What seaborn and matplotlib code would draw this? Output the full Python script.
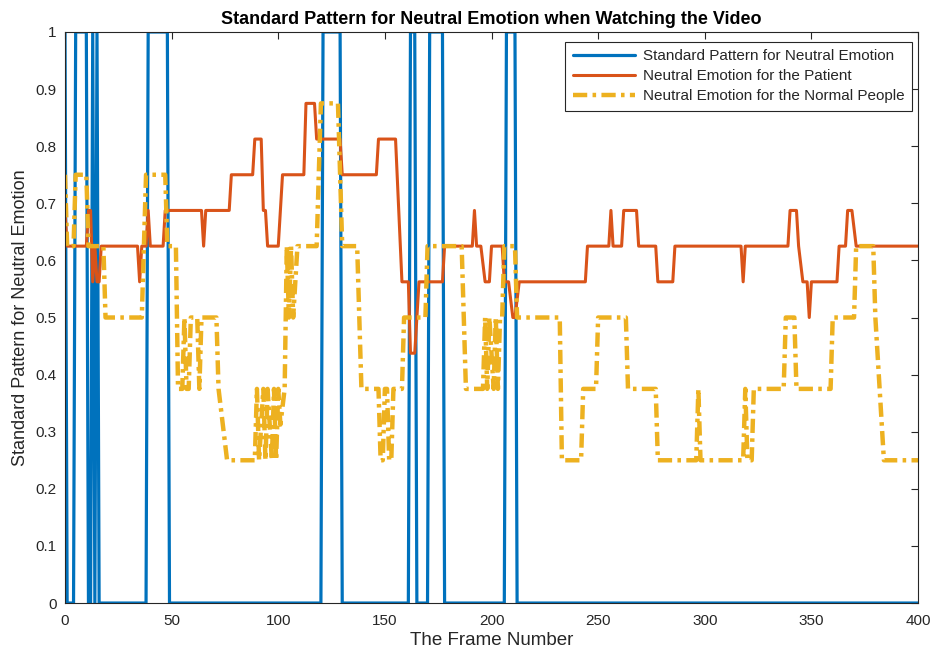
import matplotlib
matplotlib.use("Agg")
import matplotlib.pyplot as plt
import seaborn as sns
import pandas as pd

# Corner points (frame, value) of each curve; straight segments join them.
frames_standard = [0, 1, 4, 5, 10, 11, 12, 13, 14, 15, 16, 38, 39, 48, 49,
                   120, 121, 129, 130, 161, 162, 164, 165, 170, 171, 177, 178,
                   206, 207, 211, 212, 400]
values_standard = [1, 0, 0, 1, 1, 0, 0, 1, 0, 1, 0, 0, 1, 1, 0,
                   0, 1, 1, 0, 0, 1, 1, 0, 0, 1, 1, 0,
                   0, 1, 1, 0, 0]

frames_patient = [0, 1, 10, 11, 12, 13, 14, 15, 16, 17, 34, 35, 36, 38, 39, 40,
                  46, 47, 64, 65, 66, 77, 78, 88, 89, 92, 93, 94, 95, 100, 101,
                  102, 112, 113, 117, 118, 129, 130, 146, 147, 155, 158, 161,
                  162, 164, 166, 177, 178, 191, 192, 193, 195, 197, 199, 200,
                  205, 206, 208, 210, 211, 213, 244, 245, 255, 256, 257, 261,
                  262, 268, 269, 277, 278, 285, 286, 317, 318, 319, 339, 340,
                  343, 344, 346, 348, 349, 350, 362, 363, 366, 367, 369, 371,
                  400]
values_patient = [0.6875, 0.625, 0.625, 0.6875, 0.6875, 0.5625, 0.625, 0.5625,
                  0.5625, 0.625, 0.625, 0.5625, 0.625, 0.625, 0.6875, 0.625,
                  0.625, 0.6875, 0.6875, 0.625, 0.6875, 0.6875, 0.75, 0.75,
                  0.8125, 0.8125, 0.6875, 0.6875, 0.625, 0.625, 0.6875,
                  0.75, 0.75, 0.875, 0.875, 0.8125, 0.8125, 0.75, 0.75, 0.8125,
                  0.8125, 0.5625, 0.5625,
                  0.4375, 0.4375, 0.5625, 0.5625, 0.625, 0.625, 0.6875, 0.625,
                  0.625, 0.5625, 0.5625, 0.625,
                  0.625, 0.5625, 0.5625, 0.5, 0.5, 0.5625, 0.5625, 0.625, 0.625,
                  0.6875, 0.625, 0.625,
                  0.6875, 0.6875, 0.625, 0.625, 0.5625, 0.5625, 0.625, 0.625,
                  0.5625, 0.625, 0.625, 0.6875,
                  0.6875, 0.625, 0.5625, 0.5625, 0.5, 0.5625, 0.5625, 0.625,
                  0.625, 0.6875, 0.6875, 0.625,
                  0.625]

frames_normal = [0, 1, 4, 5, 10, 11, 18, 19, 36, 37, 38, 47, 48, 52, 53, 55, 56,
                 57, 58, 59, 62, 63, 64, 71, 72, 76, 89, 90, 91, 92, 93, 94, 95,
                 96, 97, 98, 99, 100, 101, 103, 104, 105, 106, 107, 108, 109,
                 118, 119, 120, 128, 129, 130, 137, 139, 147, 148, 149, 150,
                 151, 152, 153, 154, 158, 159, 169, 170, 186, 188, 196, 197,
                 198, 199, 200, 201, 202, 203, 204, 205, 206, 211, 212, 232,
                 233, 242, 243, 249, 250, 263, 264, 277, 278, 296, 297, 298,
                 318, 319, 320, 322, 323, 337, 338, 342, 343, 359, 360, 370,
                 371, 379, 380, 382, 384, 400]
values_normal = [0.75, 0.625, 0.625, 0.75, 0.75, 0.625, 0.625, 0.5, 0.5, 0.625,
                 0.75, 0.75, 0.625, 0.625, 0.375, 0.375, 0.5,
                 0.375, 0.375, 0.5, 0.5, 0.375, 0.5, 0.5, 0.375, 0.25, 0.25,
                 0.375, 0.25, 0.3125, 0.375, 0.25, 0.375,
                 0.3125, 0.25, 0.375, 0.25, 0.375, 0.3125, 0.375, 0.625, 0.5,
                 0.625, 0.5, 0.5625, 0.625,
                 0.625, 0.75, 0.875, 0.875, 0.75, 0.625, 0.625, 0.375, 0.375,
                 0.25, 0.25, 0.375,
                 0.375, 0.25, 0.25, 0.375, 0.375, 0.5, 0.5, 0.625, 0.625, 0.375,
                 0.375, 0.5,
                 0.375, 0.5, 0.4375, 0.375, 0.5, 0.375, 0.5, 0.5, 0.625, 0.625,
                 0.5, 0.5,
                 0.25, 0.25, 0.375, 0.375, 0.5, 0.5, 0.375, 0.375, 0.25, 0.25,
                 0.375, 0.25,
                 0.25, 0.375, 0.25, 0.25, 0.375, 0.375, 0.5, 0.5, 0.375, 0.375,
                 0.5, 0.5,
                 0.625, 0.625, 0.5, 0.375, 0.25, 0.25]

series_names = ["Standard Pattern for Neutral Emotion",
                "Neutral Emotion for the Patient",
                "Neutral Emotion for the Normal People"]

x_ticks = [0, 50, 100, 150, 200, 250, 300, 350, 400]
y_ticks = [0, 0.1, 0.2, 0.3, 0.4, 0.5, 0.6, 0.7, 0.8, 0.9, 1]
y_tick_labels = ["0", "0.1", "0.2", "0.3", "0.4", "0.5", "0.6", "0.7", "0.8",
                 "0.9", "1"]

title_text = "Standard Pattern for Neutral Emotion when Watching the Video"
x_label = "The Frame Number"
y_label = "Standard Pattern for Neutral Emotion"

sns.set_style("white")
plt.rcParams["font.family"] = ["Liberation Sans", "DejaVu Sans"]

axis_gray = "#262626"

fig = plt.figure(figsize=(9.38, 6.61), dpi=100)
ax = fig.add_axes([0.0693, 0.0877, 0.9094, 0.8639])

curves = [
    (frames_standard, values_standard, "#0072BD", 2.3, "-"),
    (frames_patient, values_patient, "#D95319", 2.2, "-"),
    (frames_normal, values_normal, "#EDB120", 3.2, (0, (3.2, 1.2, 0.8, 1.2))),
]
for name, (fr, vals, col, lw, ls) in zip(series_names, curves):
    df = pd.DataFrame({"frame": fr, "value": vals})
    sns.lineplot(data=df, x="frame", y="value", ax=ax, estimator=None,
                 sort=False, color=col, linewidth=lw, linestyle=ls,
                 label=name)

ax.set_xlim(0, 400)
ax.set_ylim(0, 1)
ax.set_xticks(x_ticks)
ax.set_yticks(y_ticks)
ax.set_yticklabels(y_tick_labels)
ax.tick_params(direction="in", top=True, right=True, length=5, width=0.8,
               labelsize=11, colors=axis_gray)
ax.tick_params(axis="x", pad=8)
ax.tick_params(axis="y", pad=6)
for sp in ax.spines.values():
    sp.set_color(axis_gray)
    sp.set_linewidth(0.8)

ax.set_title(title_text, fontsize=13, fontweight="bold", color="black", pad=6)
ax.set_xlabel(x_label, fontsize=13.5, color=axis_gray, labelpad=3)
ax.set_ylabel(y_label, fontsize=13, color=axis_gray, labelpad=5)

leg = ax.legend(loc="upper right", bbox_to_anchor=(0.993, 0.983),
                fontsize=11, frameon=True, fancybox=False, framealpha=1,
                edgecolor=axis_gray, handlelength=4.1, handletextpad=0.5,
                labelspacing=0.38, borderpad=0.5, borderaxespad=0)
leg.get_frame().set_linewidth(0.8)

fig.savefig("out.png", dpi=100)
